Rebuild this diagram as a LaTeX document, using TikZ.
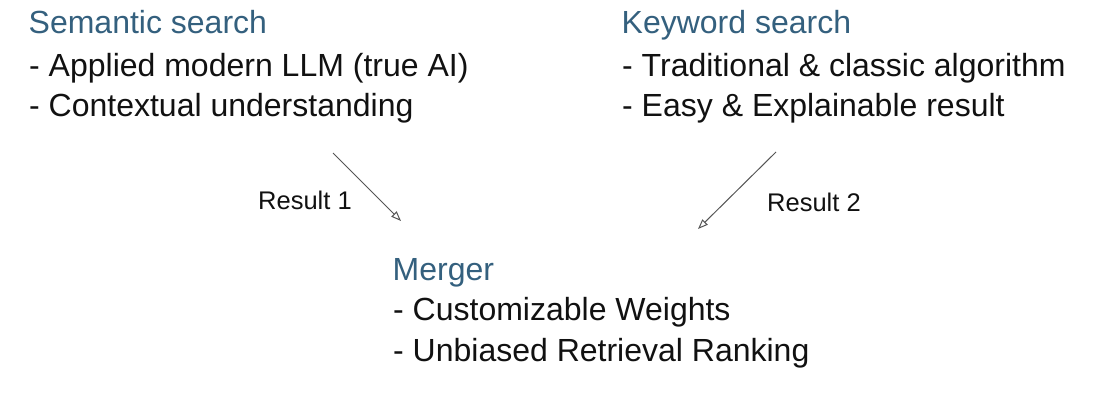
\documentclass[tikz,border=0pt]{standalone}
\usepackage{fontspec}
\setmainfont{Liberation Sans}
\usetikzlibrary{arrows.meta}
\definecolor{hdrblue}{HTML}{34607E}
\definecolor{txtblack}{HTML}{111111}
\definecolor{arrgray}{HTML}{555555}
\begin{document}
\begin{tikzpicture}[x=1pt,y=-1pt,
  hdr/.style={anchor=base west,inner sep=0pt,text=hdrblue,font=\fontsize{32}{38}\selectfont},
  item/.style={anchor=base west,inner sep=0pt,text=txtblack,font=\fontsize{32}{38}\selectfont},
  lbl/.style={anchor=base west,inner sep=0pt,text=txtblack,font=\fontsize{25.5}{30}\selectfont},
  conn/.style={draw=arrgray,line width=1pt,-{Triangle[open,length=10pt,width=7.5pt]}}]
\useasboundingbox[fill=white] (0,0) rectangle (1099,406);
% Semantic search
\node[hdr]  (sem)  at (28.5,33.5) {Semantic search};
\node[item] (sem1) at (29,76.5) {- Applied modern LLM (true AI)};
\node[item] (sem2) at (29,116.5) {- Contextual understanding};
% Keyword search
\node[hdr]  (key)  at (621.5,33.5) {Keyword search};
\node[item] (key1) at (622,76.5) {- Traditional \& classic algorithm};
\node[item] (key2) at (622,116.5) {- Easy \& Explainable result};
% Merger
\node[hdr]  (mer)  at (392.5,280.5) {Merger};
\node[item] (mer1) at (393,320.5) {- Customizable Weights};
\node[item] (mer2) at (393,361.5) {- Unbiased Retrieval Ranking};
% labels
\node[lbl] (r1) at (258,209.5) {Result 1};
\node[lbl] (r2) at (767,211.5) {Result 2};
% connectors
\coordinate (a1s) at (333,153);
\coordinate (a1e) at (401,221);
\coordinate (a2s) at (776,152);
\coordinate (a2e) at (698,229);
\draw[conn] (a1s) -- (a1e);
\draw[conn] (a2s) -- (a2e);
\end{tikzpicture}
\end{document}
